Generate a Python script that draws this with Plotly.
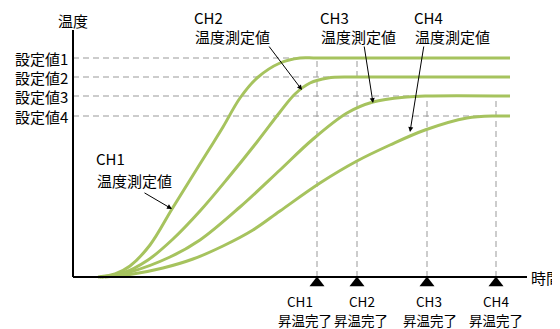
import plotly.graph_objects as go

# ------ data (schematic units: time from the y axis, temperature from the x axis) ------
ch1_t = [25, 42, 57, 77, 99, 117, 137, 150, 167, 184, 207, 227, 244, 437]
ch1_T = [0, 3, 11, 32, 68, 97, 129, 150, 179, 199, 214, 219, 219, 219]

ch2_t = [27, 50, 75, 100, 127, 155, 184, 207, 222, 237, 255, 275, 284, 437]
ch2_T = [0, 4, 17, 38, 66, 99, 135, 165, 183, 194, 199, 200, 200, 200]

ch3_t = [29, 57, 97, 127, 167, 207, 239, 274, 300, 334, 354, 437]
ch3_T = [0, 5, 20, 37, 70, 107, 137, 164, 175, 180, 181, 181]

ch4_t = [32, 60, 90, 120, 150, 180, 207, 247, 284, 317, 352, 394, 424, 437]
ch4_T = [0, 3, 9, 18, 31, 47, 66, 94, 116, 132, 147, 159, 161, 161]

setpoint_labels = ["設定値1", "設定値2", "設定値3", "設定値4"]
setpoints = [219, 200, 181, 161]
channels = ["CH1", "CH2", "CH3", "CH4"]
done_times = [244, 284, 354, 423]
done_top = [219, 219, 181, 181]  # where each completion guide starts
ch_label_x = [227, 289, 356, 423]      # "CHn" under the markers
done_label_x = [232, 288, 357, 423]    # "昇温完了" under the markers
t_end = 454
T_top = 247

FONT = "Noto Sans CJK JP"
GREEN = "#a6c35e"
GRAY = "#999999"

fig = go.Figure()

# ------ guide lines ------
for sp in setpoints:
    fig.add_shape(type="line", x0=0, x1=done_times[-1], y0=sp, y1=sp, layer="below",
                  line=dict(color=GRAY, width=1, dash="6px,4px"))
for t, top in zip(done_times, done_top):
    fig.add_shape(type="line", x0=t, x1=t, y0=0, y1=top, layer="below",
                  line=dict(color=GRAY, width=1, dash="6px,4px"))

# ------ curves ------
for t, T in [(ch1_t, ch1_T), (ch2_t, ch2_T), (ch3_t, ch3_T), (ch4_t, ch4_T)]:
    fig.add_trace(go.Scatter(x=t, y=T, mode="lines", line=dict(color=GREEN, width=3, shape="spline"),
                             hoverinfo="skip"))

# ------ axes (drawn as lines) ------
fig.add_shape(type="line", x0=0, x1=0, y0=0, y1=T_top, line=dict(color="black", width=2))
fig.add_shape(type="line", x0=0, x1=t_end, y0=0, y1=0, line=dict(color="black", width=2))

# ------ completion markers ------
fig.add_trace(go.Scatter(x=done_times, y=[-6] * 4, mode="markers",
                         marker=dict(symbol="triangle-up", size=13, color="black"), hoverinfo="skip"))

ann = []
for lab, sp in zip(setpoint_labels, setpoints):
    ann.append(dict(x=-3, y=sp, text=lab, xanchor="right", showarrow=False, font=dict(size=15)))
for ch, x1, x2 in zip(channels, ch_label_x, done_label_x):
    ann.append(dict(x=x1, y=-24, text=ch, showarrow=False, font=dict(size=13.5)))
    ann.append(dict(x=x2, y=-43, text="昇温完了", showarrow=False, font=dict(size=13.5)))

# channel labels and arrows (text pos, arrow tail, arrow head)
labels = [(22, 119, 97, (70, 85), (99, 68)),
          (120, 260, 241, (195, 232), (229, 187)),
          (246, 260, 241, (291, 232), (300, 174)),
          (340, 260, 241, (351, 232), (337, 145))]
for ch, (x, y1, y2, tail, head) in zip(channels, labels):
    ann.append(dict(x=x, y=y1, text=ch, xanchor="left", showarrow=False, borderpad=0, font=dict(size=15)))
    ann.append(dict(x=x, y=y2, text="温度測定値", xanchor="left", showarrow=False, font=dict(size=15)))
    ann.append(dict(x=head[0], y=head[1], ax=tail[0], ay=tail[1], axref="x", ayref="y", text="",
                    showarrow=True, arrowhead=2, arrowsize=1, arrowwidth=1, arrowcolor="black"))

ann.append(dict(x=0, y=257, text="温度", showarrow=False, font=dict(size=15)))
ann.append(dict(x=456, y=0, text="時間", xanchor="left", showarrow=False, font=dict(size=15)))

# the page adds an 8px body margin, so the ranges are shifted by that much
fig.update_xaxes(range=[-65, 495], visible=False)
fig.update_yaxes(range=[-60, 269], visible=False)
fig.update_layout(
    width=560, height=329,
    margin=dict(l=0, r=0, t=0, b=0),
    plot_bgcolor="white", paper_bgcolor="white",
    showlegend=False,
    font=dict(family=FONT, color="black"),
    annotations=ann,
)

fig.write_html("out.html")
